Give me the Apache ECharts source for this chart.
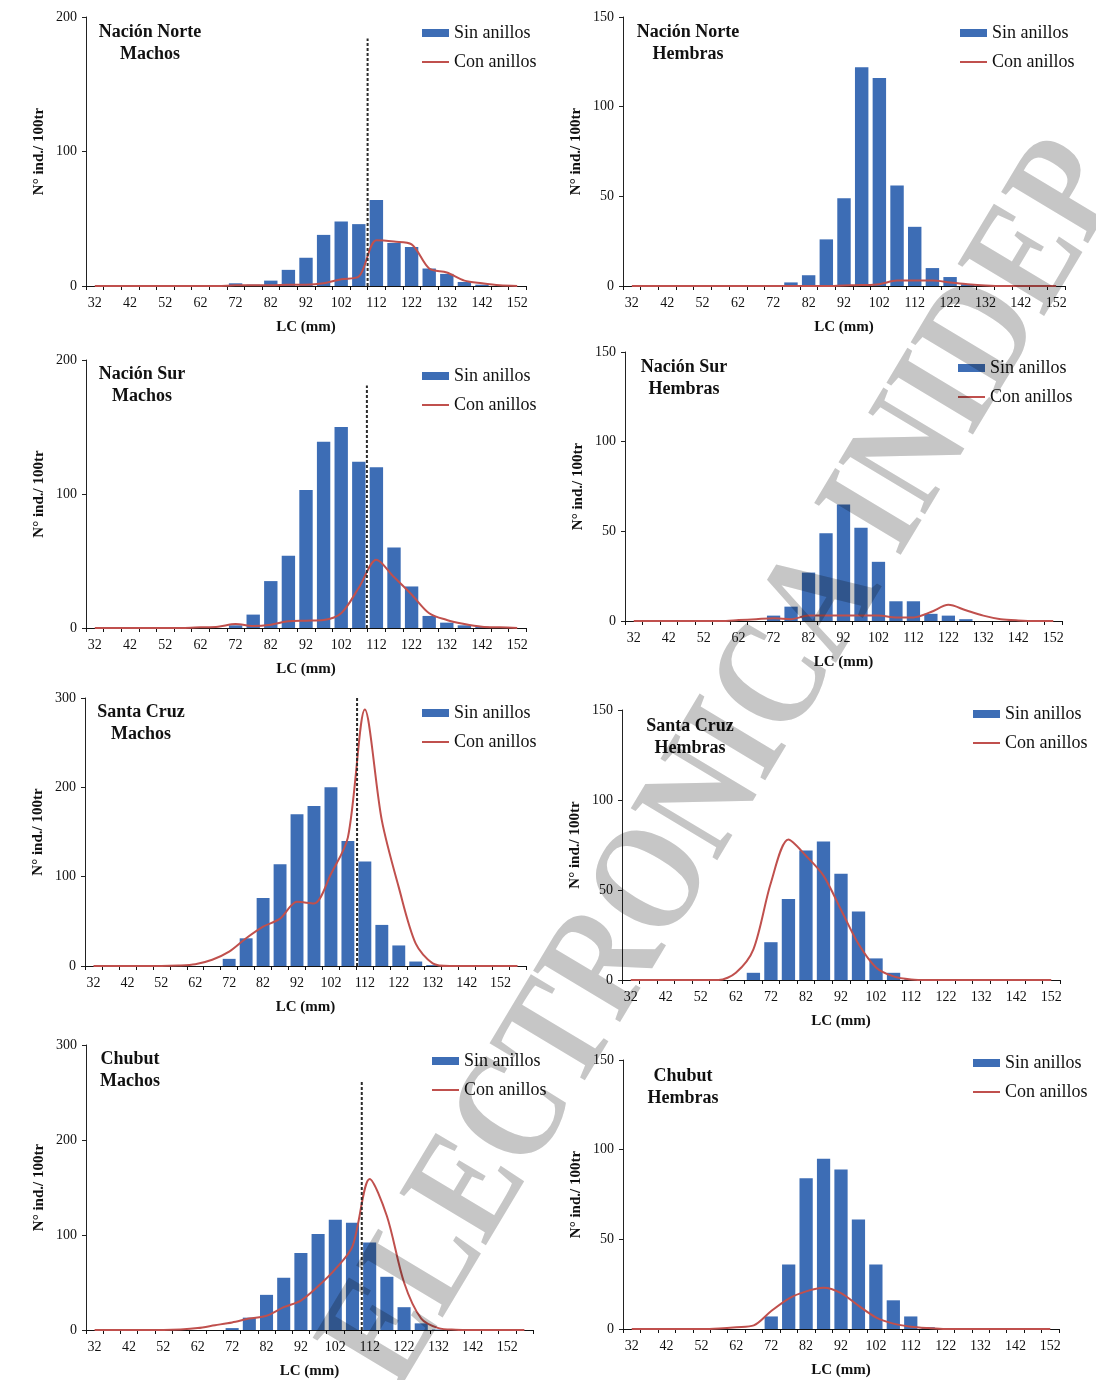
<!DOCTYPE html>
<html>
<head>
<meta charset="utf-8">
<script src="https://cdn.jsdelivr.net/npm/echarts@6/dist/echarts.min.js"></script>
<style>
html,body{margin:0;padding:0;background:#fff;}
#chart{width:1096px;height:1380px;background:#fff;}
</style>
</head>
<body>
<div id="chart"></div>
<script>
// ---------- DATA ----------
const lcCategories25 = ['32','37','42','47','52','57','62','67','72','77','82','87','92','97','102','107','112','117','122','127','132','137','142','147','152'];
const lcCategories26 = ['32','37','42','47','52','57','62','67','72','77','82','87','92','97','102','107','112','117','122','127','132','137','142','147','152','157'];

const panelTitles = ['Nación Norte\nMachos','Nación Norte\nHembras','Nación Sur\nMachos','Nación Sur\nHembras',
                     'Santa Cruz\nMachos','Santa Cruz\nHembras','Chubut\nMachos','Chubut\nHembras'];
const seriesNames = ['Sin anillos','Con anillos'];
const xAxisTitle = 'LC (mm)';
const yAxisTitle = 'N° ind./ 100tr';

const nnMachosSin  = [0,0,0,0,0,0,0,0,2,1,4,12,21,38,48,46,64,32,29,13,9,3,1,0,0];
const nnMachosCon  = [0,0,0,0,0,0,0,0,0.5,0.5,0.5,1,1,2,5,7,34,33,31,13,10,4,2,0.5,0];
const nnHembrasSin = [0,0,0,0,0,0,0,0,0,2,6,26,49,122,116,56,33,10,5,1,0,0,0,0,0];
const nnHembrasCon = [0,0,0,0,0,0,0,0,0,0,0,0,0.3,0.5,1,3,3,3,2,1,0.3,0,0,0,0];
const nsMachosSin  = [0,0,0,0,0,0,0,0,2,10,35,54,103,139,150,124,120,60,31,9,4,2,1,0,0];
const nsMachosCon  = [0,0,0,0,0,0,0.5,1,3,1.5,2.5,5,5.5,6,11,30,51,38,25,11,6,3,1,0.5,0];
const nsHembrasSin = [0,0,0,0,0,0,0,0,3,8,27,49,65,52,33,11,11,4,3,1,0,0,0,0,0];
const nsHembrasCon = [0,0,0,0,0,0,0.5,1,1.5,1,3,3,3,3,3,2,2,5,9,6,3,1,0.3,0,0];
const scMachosSin  = [0,0,0,0,0,0,0,0,8,31,76,114,170,179,200,140,117,46,23,5,1,0,0,0,0,0];
const scMachosCon  = [0,0,0,0,0,0.5,2,7,16,31,44,53,72,70,103,144,287,163,88,25,3,0,0,0,0,0];
const scHembrasSin = [0,0,0,0,0,0,0,4,21,45,72,77,59,38,12,4,0.5,0,0,0,0,0,0,0,0];
const scHembrasCon = [0,0,0,0,0,0,4,17,54,78,69,58,39,20,7,2,0.3,0,0,0,0,0,0,0,0];
const chMachosSin  = [0,0,0,0,0,0,0,0,2,13,37,55,81,101,116,113,92,56,24,7,0.5,0,0,0,0,0];
const chMachosCon  = [0,0,0,0,0,0.5,2,5,8,12,15,24,31,46,64,88,159,120,50,12,2,0.3,0,0,0,0];
const chHembrasSin = [0,0,0,0,0,0,0,0,7,36,84,95,89,61,36,16,7,1,0,0,0,0,0,0,0];
const chHembrasCon = [0,0,0,0,0,0.3,1,2,10,17,21,23,20,13,6.5,3,1.3,0.5,0,0,0,0,0,0,0];

const yAxisMax      = [200,150,200,150,300,150,300,150];
const yAxisInterval = [100,50,100,50,100,50,100,50];
// vertical dashed reference line (LC in mm) and its upper end (N° ind./100tr)
const thresholdLC  = [109.5,null,109.3,null,109.7,null,109.7,null];
const thresholdTop = [184,null,181,null,300,null,263,null];

const watermarkText = 'ELECTRONICA INIDEP';

// ---------- LAYOUT / STYLE ----------
const panelData = [
  {cats: lcCategories25, sin: nnMachosSin,  con: nnMachosCon},
  {cats: lcCategories25, sin: nnHembrasSin, con: nnHembrasCon},
  {cats: lcCategories25, sin: nsMachosSin,  con: nsMachosCon},
  {cats: lcCategories25, sin: nsHembrasSin, con: nsHembrasCon},
  {cats: lcCategories26, sin: scMachosSin,  con: scMachosCon},
  {cats: lcCategories25, sin: scHembrasSin, con: scHembrasCon},
  {cats: lcCategories26, sin: chMachosSin,  con: chMachosCon},
  {cats: lcCategories25, sin: chHembrasSin, con: chHembrasCon}
];
const gridBoxes = [
  {left:86,  top:17,   width:440, height:269},
  {left:623, top:17,   width:442, height:269},
  {left:86,  top:360,  width:440, height:268},
  {left:625, top:352,  width:437, height:269},
  {left:85,  top:698,  width:441, height:268},
  {left:622, top:710,  width:438, height:270},
  {left:86,  top:1045, width:447, height:286},
  {left:623, top:1060, width:436, height:269}
];
const titlePos  = [[150,21],[688,21],[142,363],[684,356],[141,701],[690,715],[130,1048],[683,1065]];
const legendPos = [[422,23],[960,23],[422,366],[958,358],[422,703],[973,704],[432,1051],[973,1053]];

const SERIF = '"Liberation Serif", "Times New Roman", serif';
const BAR_COLOR = '#3D6DB5';
const LINE_COLOR = '#C0504D';

const grids = [], xAxes = [], yAxes = [], series = [], legends = [], graphics = [];

panelData.forEach((p, i) => {
  const n = p.cats.length;
  grids.push(Object.assign({containLabel:false}, gridBoxes[i]));
  xAxes.push({
    type:'category', gridIndex:i, data:p.cats, boundaryGap:true,
    axisLine:{show:true, lineStyle:{color:'#111', width:1}},
    axisTick:{show:true, interval:0, length:4, alignWithLabel:false, lineStyle:{color:'#111'}},
    axisLabel:{interval:1, fontFamily:SERIF, fontSize:14, color:'#111', margin:10},
    splitLine:{show:false},
    name:xAxisTitle, nameLocation:'middle', nameGap:34,
    nameTextStyle:{fontFamily:SERIF, fontSize:15, fontWeight:'bold', color:'#111'}
  });
  xAxes.push({
    type:'value', gridIndex:i, min:29.5, max:29.5 + 5*n, show:false,
    splitLine:{show:false}
  });
  yAxes.push({
    type:'value', gridIndex:i, min:0, max:yAxisMax[i], interval:yAxisInterval[i],
    axisLine:{show:true, lineStyle:{color:'#222', width:1}},
    axisTick:{show:true, length:4, lineStyle:{color:'#222'}},
    axisLabel:{fontFamily:SERIF, fontSize:14, color:'#111', margin:9},
    splitLine:{show:false},
    name:yAxisTitle, nameLocation:'middle', nameGap:39, nameRotate:90,
    nameTextStyle:{fontFamily:SERIF, fontSize:15, fontWeight:'bold', color:'#111'}
  });
  series.push({
    name:seriesNames[0], type:'bar', xAxisIndex:2*i, yAxisIndex:i,
    data:p.sin, barCategoryGap:'24%', itemStyle:{color:BAR_COLOR}, z:2
  });
  series.push({
    name:seriesNames[1], type:'line', xAxisIndex:2*i, yAxisIndex:i,
    data:p.con, smooth:0.3, symbol:'none',
    lineStyle:{color:LINE_COLOR, width:2}, itemStyle:{color:LINE_COLOR}, z:3
  });
  if (thresholdLC[i] !== null) {
    series.push({
      name:'LC ref ' + i, type:'line', xAxisIndex:2*i+1, yAxisIndex:i,
      data:[[thresholdLC[i], 0],[thresholdLC[i], thresholdTop[i]]],
      symbol:'none', silent:true,
      lineStyle:{color:'#2a2a2a', width:2, type:[3,2]}, z:4
    });
  }
  legends.push({
    orient:'vertical', left:legendPos[i][0], top:legendPos[i][1],
    itemWidth:27, itemHeight:8, itemGap:9, padding:0,
    textStyle:{fontFamily:SERIF, fontSize:18, color:'#111', lineHeight:20},
    selectedMode:false,
    data:[
      {name:seriesNames[0], icon:'rect'},
      {name:seriesNames[1], icon:'path://M0,0M0,3L27,3L27,5L0,5ZM27,8'}
    ]
  });
  graphics.push({
    type:'text', x:titlePos[i][0], y:titlePos[i][1], z:10,
    style:{
      text:panelTitles[i], font:'bold 18px ' + SERIF, fill:'#111',
      textAlign:'center', align:'center', lineHeight:22
    }
  });
});

// watermark on its own canvas layer (zlevel 1), blended with multiply
graphics.push({
  type:'text', x:728, y:765, rotation:59*Math.PI/180, scaleX:0.82, zlevel:1, z:100, silent:true,
  style:{
    text:watermarkText, font:'bold 154px ' + SERIF, fill:'#c6c6c6',
    textAlign:'center', align:'center', textVerticalAlign:'middle', verticalAlign:'middle'
  }
});

const chart = echarts.init(document.getElementById('chart'), null, {renderer:'canvas'});
chart.setOption({
  backgroundColor:'#ffffff',
  animation:false,
  grid:grids, xAxis:xAxes, yAxis:yAxes, series:series, legend:legends,
  graphic:{elements:graphics}
});
function blendLayers() {
  const cvs = chart.getDom().querySelectorAll('canvas');
  for (let k = 1; k < cvs.length; k++) cvs[k].style.mixBlendMode = 'multiply';
}
blendLayers();
chart.on('finished', blendLayers);
setTimeout(blendLayers, 0);
setTimeout(blendLayers, 200);
</script>
</body>
</html>
